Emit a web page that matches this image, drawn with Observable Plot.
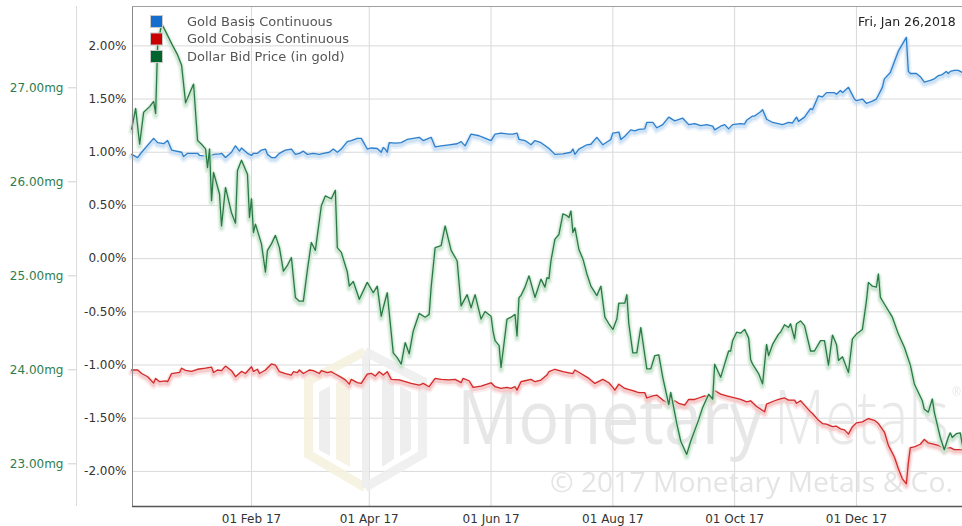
<!DOCTYPE html>
<html><head><meta charset="utf-8">
<script src="https://cdn.jsdelivr.net/npm/d3@7"></script>
<script src="https://cdn.jsdelivr.net/npm/@observablehq/plot@0.6"></script>
<style>
html,body{margin:0;padding:0;background:#fff;}
#chart{position:relative;width:962px;height:526px;overflow:hidden;}
</style></head><body><div id="chart"></div>
<script>
// ---------- data ----------
const seriesNames = ["Gold Basis Continuous", "Gold Cobasis Continuous", "Dollar Bid Price (in gold)"];
const seriesColors = ["#146ecd", "#c80000", "#00642d"];
const lineColors = ["#2f80cc", "#d42a2a", "#2a7a45"];
const glowColors = ["#c9def3", "#f5c6c6", "#c8e4cf"];
const dateLabel = "Fri, Jan 26,2018";

const xDomain = ["2016-12-03T10:00:00Z", "2018-01-23T03:00:00Z"];
const xTicks = ["2017-02-01", "2017-04-01", "2017-06-01", "2017-08-01", "2017-10-01", "2017-12-01"];
const pctDomain = [-2.33, 2.37];
const pctTicks = [-2, -1.5, -1, -0.5, 0, 0.5, 1, 1.5, 2];
const mgDomain = [22.546, 27.865];
const mgTicks = [23, 24, 25, 26, 27];

const basis = [
["2016-12-03",0.98],["2016-12-06",0.95],["2016-12-08",1.00],["2016-12-14",1.13],["2016-12-16",1.09],["2016-12-19",1.08],["2016-12-21",1.11],["2016-12-23",1.02],["2016-12-28",1.00],["2016-12-29",0.96],["2016-12-31",0.99],
["2017-01-05",0.99],["2017-01-06",0.97],["2017-01-11",0.96],["2017-01-13",0.98],["2017-01-16",0.985],["2017-01-17",0.99],["2017-01-19",0.95],["2017-01-22",1.00],["2017-01-24",1.06],["2017-01-26",1.01],["2017-01-27",1.04],["2017-01-30",0.99],
["2017-02-01",0.97],["2017-02-02",0.99],["2017-02-04",0.99],["2017-02-06",1.02],["2017-02-08",1.03],["2017-02-09",0.98],["2017-02-11",0.95],["2017-02-13",0.95],["2017-02-15",0.99],["2017-02-18",1.02],["2017-02-21",1.03],["2017-02-23",0.98],["2017-02-25",0.99],["2017-02-27",1.01],
["2017-03-01",0.98],["2017-03-04",0.99],["2017-03-07",0.98],["2017-03-09",0.99],["2017-03-12",1.00],["2017-03-14",1.03],["2017-03-16",1.00],["2017-03-18",1.03],["2017-03-21",1.10],["2017-03-23",1.11],["2017-03-26",1.13],["2017-03-28",1.13],["2017-03-31",1.03],
["2017-04-02",1.04],["2017-04-05",1.035],["2017-04-07",1.00],["2017-04-08",1.045],["2017-04-09",1.03],["2017-04-10",1.00],["2017-04-11",1.09],["2017-04-14",1.085],["2017-04-17",1.09],["2017-04-20",1.12],["2017-04-23",1.13],["2017-04-26",1.14],["2017-04-28",1.11],
["2017-05-02",1.14],["2017-05-04",1.05],["2017-05-07",1.06],["2017-05-11",1.07],["2017-05-15",1.08],["2017-05-17",1.10],["2017-05-19",1.06],["2017-05-22",1.17],["2017-05-26",1.155],["2017-05-28",1.14],
["2017-06-01",1.11],["2017-06-03",1.17],["2017-06-06",1.18],["2017-06-10",1.17],["2017-06-12",1.17],["2017-06-14",1.18],["2017-06-15",1.12],["2017-06-18",1.11],["2017-06-21",1.07],["2017-06-23",1.11],["2017-06-26",1.09],["2017-06-29",1.05],["2017-06-30",1.035],
["2017-07-03",0.98],["2017-07-07",0.985],["2017-07-11",1.00],["2017-07-12",1.03],["2017-07-13",0.98],["2017-07-15",1.03],["2017-07-19",1.07],["2017-07-21",1.075],["2017-07-24",1.14],["2017-07-27",1.07],["2017-07-31",1.12],
["2017-08-01",1.18],["2017-08-04",1.19],["2017-08-05",1.12],["2017-08-07",1.15],["2017-08-10",1.21],["2017-08-12",1.20],["2017-08-14",1.215],["2017-08-17",1.22],["2017-08-18",1.28],["2017-08-21",1.28],["2017-08-23",1.23],["2017-08-26",1.26],["2017-08-29",1.33],
["2017-09-01",1.295],["2017-09-05",1.32],["2017-09-08",1.26],["2017-09-11",1.27],["2017-09-14",1.25],["2017-09-17",1.26],["2017-09-20",1.245],["2017-09-21",1.21],["2017-09-24",1.245],["2017-09-26",1.26],["2017-09-28",1.22],["2017-09-30",1.26],
["2017-10-04",1.27],["2017-10-06",1.265],["2017-10-07",1.30],["2017-10-10",1.34],["2017-10-11",1.34],["2017-10-14",1.38],["2017-10-15",1.40],["2017-10-17",1.31],["2017-10-20",1.28],["2017-10-25",1.26],["2017-10-28",1.28],["2017-10-30",1.275],
["2017-11-01",1.33],["2017-11-02",1.29],["2017-11-05",1.33],["2017-11-08",1.41],["2017-11-09",1.40],["2017-11-12",1.53],["2017-11-14",1.52],["2017-11-16",1.56],["2017-11-20",1.56],["2017-11-21",1.545],["2017-11-23",1.58],["2017-11-24",1.56],["2017-11-27",1.61],["2017-11-30",1.50],
["2017-12-01",1.485],["2017-12-04",1.50],["2017-12-06",1.46],["2017-12-09",1.48],["2017-12-11",1.50],["2017-12-14",1.61],["2017-12-15",1.69],["2017-12-18",1.75],["2017-12-20",1.85],["2017-12-22",1.95],["2017-12-26",2.08],["2017-12-27",1.76],["2017-12-28",1.74],["2017-12-31",1.74],
["2018-01-02",1.71],["2018-01-04",1.66],["2018-01-07",1.675],["2018-01-09",1.69],["2018-01-11",1.72],["2018-01-13",1.73],["2018-01-15",1.76],["2018-01-16",1.74],["2018-01-17",1.76],["2018-01-19",1.77],["2018-01-21",1.77],["2018-01-23",1.75]
];

const cobasis = [
["2016-12-03",-1.047],["2016-12-06",-1.047],["2016-12-08",-1.08],["2016-12-11",-1.11],["2016-12-14",-1.17],["2016-12-15",-1.126],["2016-12-17",-1.157],["2016-12-20",-1.15],["2016-12-21",-1.157],["2016-12-23",-1.08],["2016-12-27",-1.07],["2016-12-28",-1.03],["2016-12-30",-1.05],
["2017-01-02",-1.06],["2017-01-05",-1.04],["2017-01-09",-1.03],["2017-01-12",-1.02],["2017-01-13",-1.07],["2017-01-15",-1.047],["2017-01-17",-1.053],["2017-01-19",-1.01],["2017-01-22",-1.053],["2017-01-24",-1.11],["2017-01-27",-1.06],["2017-01-29",-1.08],
["2017-02-01",-1.016],["2017-02-02",-1.06],["2017-02-04",-1.04],["2017-02-05",-1.08],["2017-02-08",-1.047],["2017-02-11",-0.99],["2017-02-13",-1.00],["2017-02-15",-1.063],["2017-02-18",-1.08],["2017-02-21",-1.094],["2017-02-22",-1.063],["2017-02-24",-1.072],["2017-02-25",-1.047],["2017-02-27",-1.08],
["2017-03-02",-1.047],["2017-03-04",-1.053],["2017-03-07",-1.08],["2017-03-08",-1.053],["2017-03-11",-1.072],["2017-03-13",-1.063],["2017-03-15",-1.085],["2017-03-18",-1.116],["2017-03-20",-1.14],["2017-03-22",-1.18],["2017-03-23",-1.135],["2017-03-26",-1.166],["2017-03-28",-1.173],["2017-03-31",-1.085],
["2017-04-02",-1.078],["2017-04-04",-1.104],["2017-04-06",-1.063],["2017-04-08",-1.094],["2017-04-10",-1.063],["2017-04-12",-1.135],["2017-04-16",-1.14],["2017-04-19",-1.157],["2017-04-22",-1.173],["2017-04-26",-1.19],["2017-04-28",-1.173],
["2017-05-01",-1.204],["2017-05-04",-1.126],["2017-05-07",-1.135],["2017-05-11",-1.14],["2017-05-14",-1.135],["2017-05-17",-1.166],["2017-05-18",-1.126],["2017-05-21",-1.148],["2017-05-23",-1.21],["2017-05-27",-1.198],["2017-05-30",-1.18],
["2017-06-01",-1.167],["2017-06-03",-1.204],["2017-06-06",-1.22],["2017-06-09",-1.21],["2017-06-11",-1.22],["2017-06-13",-1.204],["2017-06-14",-1.236],["2017-06-16",-1.157],["2017-06-18",-1.148],["2017-06-21",-1.135],["2017-06-23",-1.157],["2017-06-26",-1.141],["2017-06-29",-1.094],["2017-06-30",-1.063],
["2017-07-03",-1.04],["2017-07-07",-1.063],["2017-07-12",-1.08],["2017-07-13",-1.047],["2017-07-16",-1.08],["2017-07-20",-1.126],["2017-07-23",-1.173],["2017-07-27",-1.135],["2017-07-30",-1.167],
["2017-08-01",-1.21],["2017-08-02",-1.236],["2017-08-04",-1.18],["2017-08-07",-1.22],["2017-08-11",-1.24],["2017-08-14",-1.26],["2017-08-17",-1.26],["2017-08-18",-1.31],["2017-08-21",-1.29],["2017-08-23",-1.283],["2017-08-26",-1.33],["2017-08-29",-1.36],
["2017-09-01",-1.336],["2017-09-03",-1.36],["2017-09-06",-1.377],["2017-09-08",-1.324],["2017-09-11",-1.324],["2017-09-13",-1.31],["2017-09-16",-1.29],["2017-09-18",-1.302],["2017-09-20",-1.33],["2017-09-21",-1.24],["2017-09-24",-1.274],["2017-09-27",-1.29],
["2017-10-01",-1.31],["2017-10-04",-1.324],["2017-10-07",-1.346],["2017-10-09",-1.336],["2017-10-12",-1.39],["2017-10-16",-1.44],["2017-10-17",-1.368],["2017-10-21",-1.336],["2017-10-23",-1.324],["2017-10-26",-1.31],["2017-10-28",-1.33],["2017-10-31",-1.33],
["2017-11-01",-1.36],["2017-11-03",-1.336],["2017-11-05",-1.377],["2017-11-08",-1.44],["2017-11-09",-1.456],["2017-11-12",-1.52],["2017-11-14",-1.55],["2017-11-16",-1.556],["2017-11-19",-1.58],["2017-11-21",-1.575],["2017-11-23",-1.60],["2017-11-25",-1.61],["2017-11-27",-1.65],["2017-11-29",-1.58],
["2017-12-01",-1.544],["2017-12-04",-1.535],["2017-12-07",-1.503],["2017-12-10",-1.52],["2017-12-12",-1.55],["2017-12-15",-1.63],["2017-12-17",-1.755],["2017-12-20",-1.865],["2017-12-22",-1.975],["2017-12-24",-2.07],["2017-12-26",-2.116],["2017-12-27",-1.92],["2017-12-28",-1.777],["2017-12-30",-1.77],
["2018-01-02",-1.745],["2018-01-04",-1.70],["2018-01-06",-1.733],["2018-01-09",-1.745],["2018-01-11",-1.755],["2018-01-14",-1.786],["2018-01-17",-1.776],["2018-01-19",-1.795],["2018-01-23",-1.795]
];

const dollarBid = [
["2016-12-03",26.56],["2016-12-05",26.78],["2016-12-07",26.40],["2016-12-09",26.74],["2016-12-12",26.80],["2016-12-14",26.855],["2016-12-15",26.727],["2016-12-16",27.45],["2016-12-18",27.68],["2016-12-20",27.6],["2016-12-23",27.47],["2016-12-26",27.35],["2016-12-28",27.24],["2016-12-30",26.84],
["2017-01-03",27.04],["2017-01-05",26.44],["2017-01-07",26.40],["2017-01-09",26.35],["2017-01-10",26.15],["2017-01-11",26.35],["2017-01-12",25.80],["2017-01-13",26.10],["2017-01-16",25.87],["2017-01-17",25.53],["2017-01-19",25.94],["2017-01-22",25.67],["2017-01-24",25.56],["2017-01-25",26.12],["2017-01-27",26.23],["2017-01-30",26.08],["2017-01-31",25.62],
["2017-02-01",25.82],["2017-02-02",25.46],["2017-02-03",25.55],["2017-02-06",25.34],["2017-02-08",25.04],["2017-02-09",25.27],["2017-02-11",25.34],["2017-02-13",25.43],["2017-02-15",25.30],["2017-02-17",25.05],["2017-02-19",25.11],["2017-02-21",25.195],["2017-02-23",24.77],["2017-02-25",24.73],["2017-02-27",24.73],
["2017-03-01",25.06],["2017-03-03",25.355],["2017-03-05",25.27],["2017-03-08",25.745],["2017-03-10",25.85],["2017-03-13",25.82],["2017-03-15",25.91],["2017-03-16",25.30],["2017-03-18",25.25],["2017-03-21",25.04],["2017-03-22",24.89],["2017-03-24",24.94],["2017-03-27",24.75],["2017-03-31",24.93],
["2017-04-03",24.82],["2017-04-05",24.89],["2017-04-07",24.57],["2017-04-08",24.66],["2017-04-10",24.82],["2017-04-13",24.18],["2017-04-15",24.13],["2017-04-17",24.06],["2017-04-19",24.29],["2017-04-21",24.17],["2017-04-23",24.41],["2017-04-26",24.60],["2017-04-29",24.56],
["2017-05-01",24.59],["2017-05-02",24.88],["2017-05-04",25.30],["2017-05-07",25.32],["2017-05-09",25.53],["2017-05-12",25.27],["2017-05-15",25.16],["2017-05-17",24.68],["2017-05-20",24.80],["2017-05-22",24.66],["2017-05-24",24.80],["2017-05-27",24.54],["2017-05-29",24.62],
["2017-06-01",24.57],["2017-06-02",24.41],["2017-06-03",24.31],["2017-06-05",24.26],["2017-06-06",24.025],["2017-06-09",24.54],["2017-06-11",24.56],["2017-06-13",24.59],["2017-06-14",24.36],["2017-06-15",24.77],["2017-06-16",24.79],["2017-06-18",24.88],["2017-06-20",25.00],["2017-06-23",24.77],["2017-06-26",24.965],["2017-06-28",24.88],["2017-06-29",24.98],["2017-06-30",24.97],
["2017-07-01",25.16],["2017-07-03",25.39],["2017-07-05",25.44],["2017-07-07",25.66],["2017-07-09",25.64],["2017-07-10",25.62],["2017-07-11",25.69],["2017-07-12",25.46],["2017-07-13",25.51],["2017-07-15",25.28],["2017-07-17",25.18],["2017-07-19",25.02],["2017-07-21",24.89],["2017-07-24",24.79],["2017-07-26",24.89],["2017-07-28",24.56],["2017-07-30",24.49],
["2017-08-01",24.43],["2017-08-03",24.54],["2017-08-04",24.71],["2017-08-07",24.71],["2017-08-08",24.80],["2017-08-09",24.49],["2017-08-11",24.18],["2017-08-13",24.18],["2017-08-15",24.45],["2017-08-18",24.01],["2017-08-20",24.01],["2017-08-22",24.15],["2017-08-24",24.16],["2017-08-26",23.92],["2017-08-29",23.63],["2017-08-30",23.76],
["2017-09-02",23.43],["2017-09-04",23.24],["2017-09-07",23.10],["2017-09-09",23.24],["2017-09-13",23.47],["2017-09-15",23.60],["2017-09-18",23.74],["2017-09-20",23.69],["2017-09-21",24.06],["2017-09-24",23.92],["2017-09-26",24.06],["2017-09-28",24.20],["2017-09-29",24.20],["2017-09-30",24.31],
["2017-10-02",24.40],["2017-10-04",24.39],["2017-10-06",24.43],["2017-10-08",24.34],["2017-10-09",24.11],["2017-10-10",24.06],["2017-10-13",23.96],["2017-10-15",23.85],["2017-10-17",24.27],["2017-10-18",24.15],["2017-10-20",24.27],["2017-10-23",24.38],["2017-10-24",24.40],["2017-10-26",24.48],["2017-10-28",24.45],["2017-10-29",24.49],["2017-10-31",24.33],
["2017-11-01",24.49],["2017-11-03",24.52],["2017-11-05",24.47],["2017-11-08",24.20],["2017-11-10",24.20],["2017-11-13",24.31],["2017-11-15",24.31],["2017-11-17",24.05],["2017-11-19",24.37],["2017-11-21",24.27],["2017-11-22",24.10],["2017-11-24",24.14],["2017-11-27",23.97],["2017-11-29",24.33],
["2017-12-01",24.38],["2017-12-04",24.43],["2017-12-06",24.73],["2017-12-07",24.93],["2017-12-09",24.89],["2017-12-11",24.88],["2017-12-12",25.02],["2017-12-13",24.77],["2017-12-15",24.70],["2017-12-19",24.56],["2017-12-22",24.38],["2017-12-25",24.24],["2017-12-28",24.05],["2017-12-30",23.85],
["2018-01-03",23.67],["2018-01-04",23.58],["2018-01-06",23.55],["2018-01-08",23.69],["2018-01-09",23.55],["2018-01-12",23.28],["2018-01-14",23.15],["2018-01-16",23.28],["2018-01-17",23.33],["2018-01-18",23.28],["2018-01-20",23.32],["2018-01-22",23.33],["2018-01-23",23.21]
];

// ---------- build ----------
const parse = d3.utcParse("%Y-%m-%d");
const mgToPct = d3.scaleLinear().domain(mgDomain).range(pctDomain);
const rows = (arr, f = v => v) => arr.map(([d, v]) => ({date: parse(d), value: f(v)}));
const basisRows = rows(basis);
const cobasisRows = rows(cobasis);
const dollarRows = rows(dollarBid, mgToPct);
const xDom = xDomain.map(d => new Date(d));
const xTickDates = xTicks.map(parse);

function lineWithGlow(data, i) {
  return [
    Plot.lineY(data, {x: "date", y: "value", stroke: glowColors[i], strokeWidth: 7, strokeOpacity: 0.35, dy: 2.5}),
    Plot.lineY(data, {x: "date", y: "value", stroke: glowColors[i], strokeWidth: 4, strokeOpacity: 0.85, dy: 2}),
    Plot.lineY(data, {x: "date", y: "value", stroke: lineColors[i], strokeWidth: 1.3})
  ];
}

const chart = Plot.plot({
  width: 962, height: 526,
  marginLeft: 132, marginRight: 0, marginTop: 6, marginBottom: 20,
  style: {fontFamily: "DejaVu Sans", fontSize: "12px", color: "#333", background: "transparent", overflow: "hidden"},
  x: {type: "utc", domain: xDom},
  y: {domain: pctDomain},
  marks: [
    Plot.gridX(xTickDates, {stroke: "#d9d9d9", strokeOpacity: 1}),
    Plot.gridY(pctTicks, {stroke: "#d9d9d9", strokeOpacity: 1}),
    Plot.ruleX([xDom[0]], {dx: -56, stroke: "#dcdcdc"}),
    Plot.axisX(xTickDates, {anchor: "bottom", tickSize: 0, tickPadding: 8, tickFormat: d3.utcFormat("%d %b %y"), fill: "#333", label: null}),
    Plot.axisY(pctTicks, {anchor: "left", tickSize: 0, tickPadding: 6, tickFormat: d => d.toFixed(2) + "%", fill: "#333", label: null}),
    Plot.axisY(mgTicks.map(mgToPct), {anchor: "left", dx: -56, tickSize: 8, tickPadding: 5, stroke: "#cfcfcf", fill: "#2e7d4f", tickFormat: d => mgToPct.invert(d).toFixed(2) + "mg", label: null}),
    ...lineWithGlow(basisRows, 0),
    ...lineWithGlow(cobasisRows, 1),
    ...lineWithGlow(dollarRows, 2),
    Plot.ruleX([xDom[0]], {stroke: "#8a8a8a"}),
    Plot.ruleY([pctDomain[1]], {stroke: "#a0a0a0"}),
    Plot.ruleY([pctDomain[0]], {stroke: "#555", strokeWidth: 1.4})
  ]
});
document.getElementById("chart").appendChild(chart);

// ---------- watermark (decoration, behind the lines) ----------
const svg = d3.select(chart);
const firstLine = chart.querySelector('g[aria-label="line"]');
const wm = svg.insert("g", () => firstLine).attr("opacity", 0.85).attr("text-anchor", "start");
// logo
wm.append("polyline").attr("points", "365,351.5 308.5,381 308.5,454.5 365,487.5")
  .attr("fill", "none").attr("stroke", "#f6f1de").attr("stroke-width", 9).attr("stroke-linejoin", "miter");
wm.append("polyline").attr("points", "365,351.5 422.5,381 422.5,454.5 365,487.5")
  .attr("fill", "none").attr("stroke", "#eeeeee").attr("stroke-width", 9).attr("stroke-linejoin", "miter");
wm.append("polygon").attr("points", "319,392 330,386 330,456 319,450").attr("fill", "#ebebeb");
wm.append("polygon").attr("points", "336,383 350,376 350,467 336,459").attr("fill", "#f6f1df");
wm.append("polygon").attr("points", "362,356 369,356 369,488 362,488").attr("fill", "#ececec");
wm.append("polygon").attr("points", "382,376 394,383 394,459 382,467").attr("fill", "#ebebeb");
wm.append("polygon").attr("points", "400,386 411,392 411,450 400,456").attr("fill", "#ebebeb");
// text, horizontally scaled to the reference's widths
function wmText(str, x, y, size, weight, fill, width) {
  const t = wm.append("text").attr("x", 0).attr("y", 0).attr("font-family", "Open Sans")
    .attr("font-size", size).attr("font-weight", weight).attr("fill", fill).text(str);
  const natural = t.node().getComputedTextLength() || width;
  t.attr("transform", `translate(${x},${y}) scale(${width / natural},1)`);
}
wmText("Monetary", 457, 444, 75, 400, "#e3e3e3", 307);
wmText("Metals", 774, 444, 75, 300, "#e6e6e6", 175);
wmText("®", 952, 396, 12, 400, "#e3e3e3", 9);
wmText("© 2017 Monetary Metals & Co.", 550, 492, 28, 400, "#e0e0e0", 403);

// ---------- legend & date label ----------
const lg = svg.append("g").attr("font-family", "DejaVu Sans").attr("text-anchor", "start");
seriesNames.forEach((name, i) => {
  const top = [15, 32.5, 50][i];
  lg.append("rect").attr("x", 150.5).attr("y", top + 0.5).attr("width", 12).attr("height", 12)
    .attr("fill", seriesColors[i]).attr("stroke", "#c8c8c8").attr("stroke-width", 1);
  lg.append("text").attr("x", 187).attr("y", top + 10.8).attr("font-size", 13).attr("fill", "#555").text(name);
});
lg.append("text").attr("x", 858).attr("y", 26).attr("font-size", 12.5).attr("fill", "#222").text(dateLabel);
</script>
</body></html>
